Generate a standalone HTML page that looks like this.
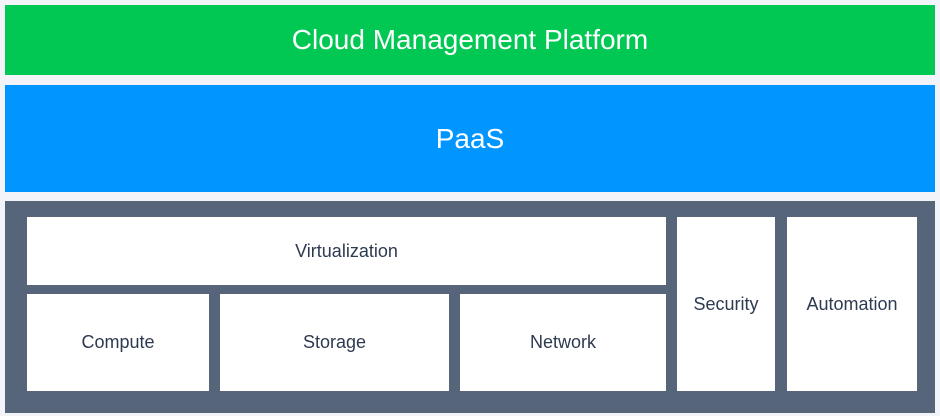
<!DOCTYPE html>
<html><head><style>
body{margin:0;width:940px;height:416px;background:#f2f4f9;position:relative;overflow:hidden;font-family:"Liberation Sans",sans-serif}
.b{position:absolute;display:flex;align-items:center;justify-content:center}
.w{background:#fff;color:#2d3a50;font-size:18px}
</style></head><body>
<div class="b" style="left:5px;top:5px;width:930px;height:70px;background:#00c853;color:#fff;font-size:28px">Cloud Management Platform</div>
<div class="b" style="left:5px;top:85px;width:930px;height:107px;background:#0095ff;color:#fff;font-size:28px">PaaS</div>
<div style="position:absolute;left:5px;top:201px;width:930px;height:212px;background:#566579"></div>
<div class="b w" style="left:27px;top:217px;width:639px;height:68px">Virtualization</div>
<div class="b w" style="left:27px;top:294px;width:182px;height:97px">Compute</div>
<div class="b w" style="left:220px;top:294px;width:229px;height:97px">Storage</div>
<div class="b w" style="left:460px;top:294px;width:206px;height:97px">Network</div>
<div class="b w" style="left:677px;top:217px;width:98px;height:174px">Security</div>
<div class="b w" style="left:787px;top:217px;width:130px;height:174px">Automation</div>
</body></html>
